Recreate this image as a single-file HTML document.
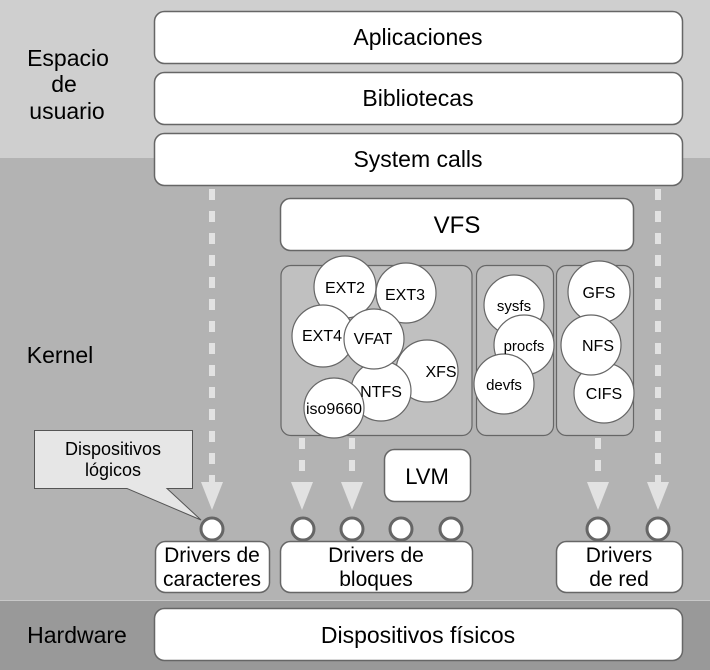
<!DOCTYPE html>
<html><head><meta charset="utf-8"><style>
html,body{margin:0;padding:0;width:710px;height:670px;overflow:hidden;background:#b3b3b3}
svg{display:block}
text{font-family:"Liberation Sans",sans-serif;fill:#000}
</style></head><body>
<svg width="710" height="670" viewBox="0 0 710 670">
<rect x="0" y="0" width="710" height="158" fill="#cfcfcf"/>
<rect x="0" y="158" width="710" height="442" fill="#b3b3b3"/>
<line x1="0" y1="600.5" x2="710" y2="600.5" stroke="#c8c8c8" stroke-width="1"/>
<rect x="0" y="601" width="710" height="69" fill="#999"/>
<g fill="#fff" stroke="#666" stroke-width="1.5">
<rect x="154.5" y="11.5" width="528" height="52" rx="10"/>
<rect x="154.5" y="72.5" width="528" height="52" rx="10"/>
<rect x="154.5" y="133.5" width="528" height="52" rx="10"/>
<rect x="280.5" y="198.5" width="353" height="52" rx="10"/>
<rect x="384.5" y="449.5" width="86" height="52" rx="10"/>
<rect x="155.5" y="541.5" width="114" height="51" rx="10"/>
<rect x="280.5" y="541.5" width="192" height="51" rx="10"/>
<rect x="556.5" y="541.5" width="126" height="51" rx="10"/>
<rect x="154.5" y="608.5" width="528" height="52" rx="10"/>
</g>
<g fill="#c0c0c0" stroke="#666" stroke-width="1.2">
<rect x="281" y="265.5" width="191" height="170" rx="10"/>
<rect x="476.5" y="265.5" width="77" height="170" rx="10"/>
<rect x="556.5" y="265.5" width="77" height="170" rx="10"/>
</g>
<g fill="#fff" stroke="#666" stroke-width="1.2">
<circle cx="345" cy="287" r="31"/>
<circle cx="406" cy="293" r="30"/>
<circle cx="427" cy="371" r="31"/>
<circle cx="381" cy="391" r="30"/>
<circle cx="323" cy="336" r="31"/>
<circle cx="374" cy="339" r="30"/>
<circle cx="334" cy="408" r="30"/>
<circle cx="514" cy="305" r="30"/>
<circle cx="524" cy="345" r="30"/>
<circle cx="504" cy="384" r="30"/>
<circle cx="599" cy="292" r="31"/>
<circle cx="604" cy="393" r="30"/>
<circle cx="591" cy="345" r="30"/>
</g>
<g font-size="16" text-anchor="middle">
<text x="345" y="293">EXT2</text>
<text x="405" y="300">EXT3</text>
<text x="441" y="377">XFS</text>
<text x="381" y="397">NTFS</text>
<text x="322" y="341">EXT4</text>
<text x="373" y="344">VFAT</text>
<text x="334" y="414">iso9660</text>
<text x="514" y="311" font-size="15">sysfs</text>
<text x="524" y="351" font-size="15">procfs</text>
<text x="504" y="390" font-size="15">devfs</text>
<text x="599" y="298">GFS</text>
<text x="598" y="351">NFS</text>
<text x="604" y="399">CIFS</text>
</g>
<g stroke="#e2e2e2" stroke-width="6" stroke-dasharray="11 11" fill="none">
<line x1="212" y1="189" x2="212" y2="484"/>
<line x1="302" y1="438" x2="302" y2="484"/>
<line x1="352" y1="438" x2="352" y2="484"/>
<line x1="598" y1="438" x2="598" y2="484"/>
<line x1="658" y1="189" x2="658" y2="484"/>
</g>
<g fill="#e2e2e2">
<polygon points="201,482 223,482 212,510"/>
<polygon points="291,482 313,482 302,510"/>
<polygon points="341,482 363,482 352,510"/>
<polygon points="587,482 609,482 598,510"/>
<polygon points="647,482 669,482 658,510"/>
</g>
<g fill="#fff" stroke="#666" stroke-width="3">
<circle cx="212" cy="529" r="11"/>
<circle cx="303" cy="529" r="11"/>
<circle cx="352" cy="529" r="11"/>
<circle cx="401" cy="529" r="11"/>
<circle cx="451" cy="529" r="11"/>
<circle cx="598" cy="529" r="11"/>
<circle cx="658" cy="529" r="11"/>
</g>
<path d="M34.5,430.5 H192.5 V488.5 H167 L201,520 L127,488.5 H34.5 Z" fill="#e6e6e6" stroke="#555" stroke-width="1"/>
<g font-size="18" text-anchor="middle">
<text x="113" y="455">Dispositivos</text>
<text x="113" y="476">lógicos</text>
</g>
<g font-size="23" text-anchor="middle">
<text x="418" y="45">Aplicaciones</text>
<text x="418" y="106">Bibliotecas</text>
<text x="418" y="167">System calls</text>
<text x="457" y="233" font-size="24">VFS</text>
<text x="427" y="484" font-size="22">LVM</text>
<text x="212" y="562" font-size="21">Drivers de</text>
<text x="212" y="586" font-size="21">caracteres</text>
<text x="376" y="562" font-size="21">Drivers de</text>
<text x="376" y="586" font-size="21">bloques</text>
<text x="619" y="562" font-size="21">Drivers</text>
<text x="619" y="586" font-size="21">de red</text>
<text x="418" y="643">Dispositivos físicos</text>
<text x="68" y="66">Espacio</text>
<text x="64" y="92">de</text>
<text x="67" y="119">usuario</text>
<text x="60" y="363">Kernel</text>
<text x="77" y="643">Hardware</text>
</g>
</svg>
</body></html>
